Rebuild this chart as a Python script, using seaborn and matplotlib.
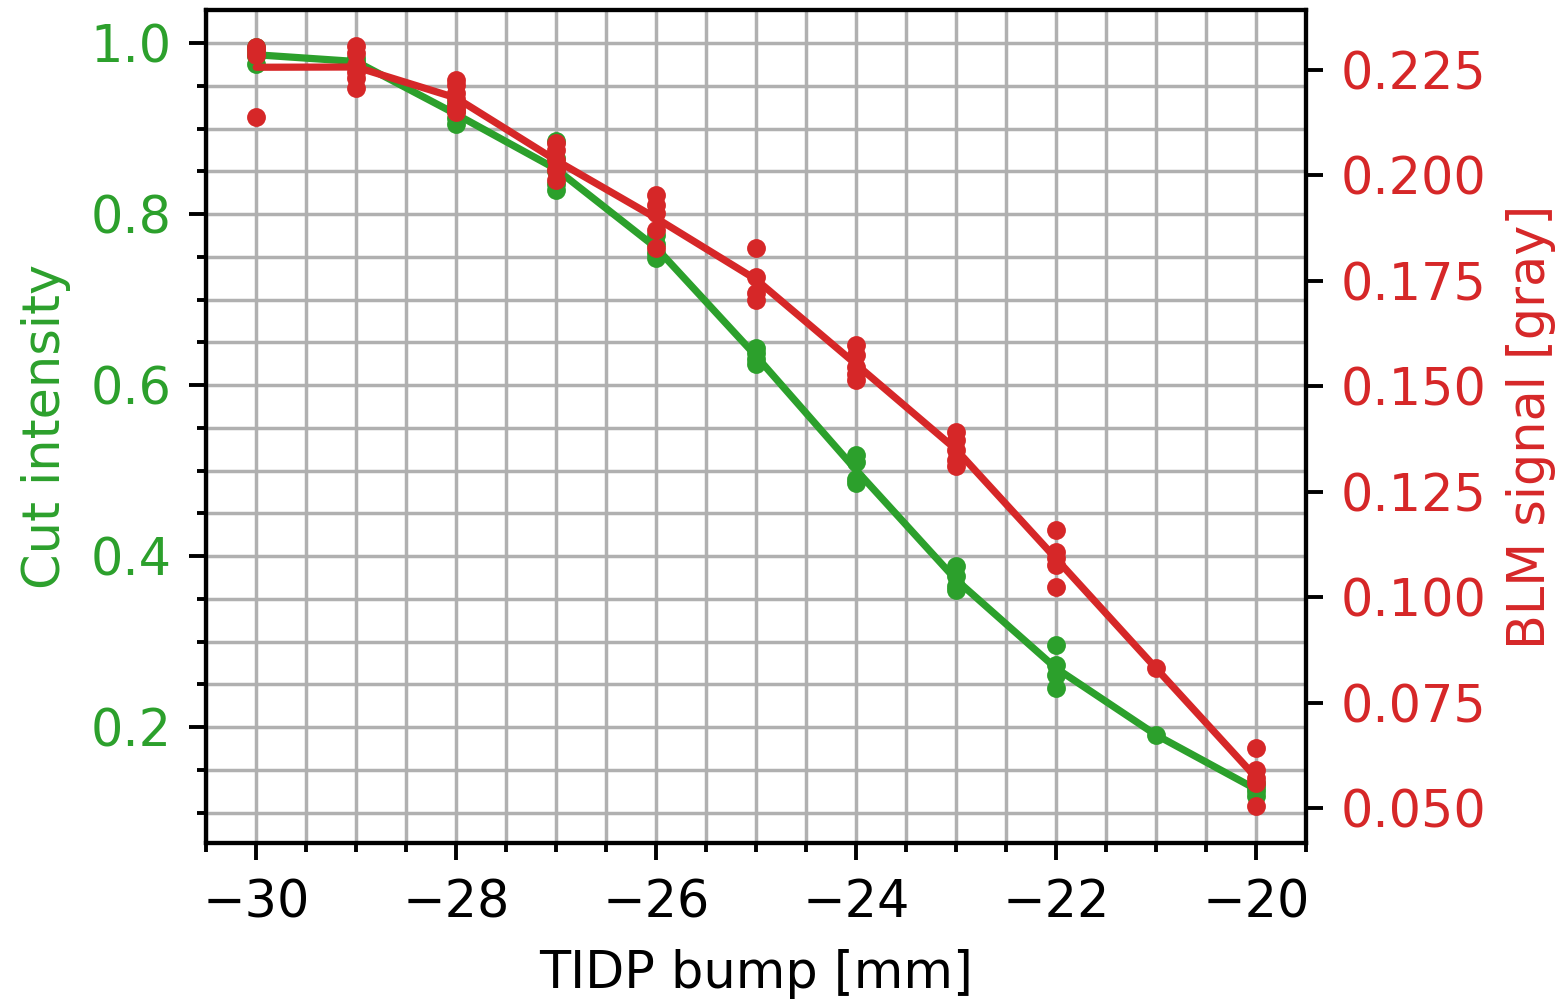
import matplotlib
matplotlib.use("Agg")
import matplotlib.pyplot as plt
import seaborn as sns
import pandas as pd
from matplotlib.ticker import MultipleLocator

bump_mm = [-30, -29, -28, -27, -26, -25, -24, -23, -22, -21, -20]
cut_intensity = [
    [0.995, 0.990, 0.985, 0.975],
    [0.982, 0.978, 0.975],
    [0.930, 0.920, 0.912, 0.905],
    [0.885, 0.865, 0.850, 0.835, 0.828],
    [0.775, 0.765, 0.755, 0.748],
    [0.643, 0.638, 0.630, 0.625],
    [0.518, 0.510, 0.490, 0.485],
    [0.388, 0.377, 0.365, 0.360],
    [0.296, 0.273, 0.261, 0.246],
    [0.191],
    [0.135, 0.130, 0.125, 0.120],
]
blm_signal = [
    [0.2305, 0.2296, 0.2285, 0.2139],
    [0.2307, 0.2290, 0.2262, 0.2245, 0.2230, 0.2207],
    [0.2226, 0.2214, 0.2195, 0.2180, 0.2165, 0.2155, 0.2150],
    [0.2077, 0.2061, 0.2037, 0.2013, 0.1990],
    [0.1954, 0.1930, 0.1911, 0.1871, 0.1828],
    [0.1828, 0.1759, 0.1721, 0.1705],
    [0.1598, 0.1574, 0.1546, 0.1529, 0.1515],
    [0.1392, 0.1373, 0.1350, 0.1326, 0.1311],
    [0.1159, 0.1107, 0.1093, 0.1076, 0.1024],
    [0.0832],
    [0.0642, 0.0590, 0.0571, 0.0559, 0.0504],
]

GREEN = "#2ca02c"
RED = "#d62728"
FS = 18.3

df_cut = pd.DataFrame([(x, v) for x, vals in zip(bump_mm, cut_intensity) for v in vals],
                      columns=["bump", "val"])
df_blm = pd.DataFrame([(x, v) for x, vals in zip(bump_mm, blm_signal) for v in vals],
                      columns=["bump", "val"])

sns.set_style("white")
plt.rcParams["font.family"] = ["DejaVu Sans"]
plt.rcParams["text.color"] = "black"
plt.rcParams["axes.labelcolor"] = "black"
plt.rcParams["xtick.color"] = "black"
plt.rcParams["ytick.color"] = "black"

fig = plt.figure(figsize=(7.81, 4.995), dpi=200)
ax1 = fig.add_axes([0.132, 0.156, 0.836 - 0.132, 0.990 - 0.156])
ax2 = ax1.twinx()

sns.lineplot(data=df_cut, x="bump", y="val", estimator="mean", errorbar=None,
             color=GREEN, lw=2.6, ax=ax1, zorder=3)
sns.scatterplot(data=df_cut, x="bump", y="val", color=GREEN, s=46, linewidth=0,
                ax=ax1, zorder=4)
sns.lineplot(data=df_blm, x="bump", y="val", estimator="mean", errorbar=None,
             color=RED, lw=2.6, ax=ax2, zorder=3)
sns.scatterplot(data=df_blm, x="bump", y="val", color=RED, s=46, linewidth=0,
                ax=ax2, zorder=4)

ax1.set_xlim(-30.5, -19.5)
ax1.set_ylim(0.0643, 1.0386)
ax2.set_ylim(0.0417, 0.2392)

ax1.xaxis.set_major_locator(MultipleLocator(2))
ax1.xaxis.set_minor_locator(MultipleLocator(0.5))
ax1.yaxis.set_major_locator(MultipleLocator(0.2))
ax1.yaxis.set_minor_locator(MultipleLocator(0.05))
ax2.yaxis.set_major_locator(MultipleLocator(0.025))

ax1.grid(True, which="both", color="#b0b0b0", lw=1.25)
ax1.set_axisbelow(True)
ax2.grid(False)

for ax in (ax1, ax2):
    for sp in ax.spines.values():
        sp.set_linewidth(1.5)
        sp.set_color("black")

ax1.tick_params(axis="both", which="major", length=6.2, width=1.4, labelsize=FS,
                pad=6.4, direction="out", bottom=True, left=True, color="black")
ax1.tick_params(axis="both", which="minor", length=3.4, width=1.4,
                direction="out", bottom=True, left=True, color="black")
ax1.tick_params(axis="x", labelcolor="black")
ax1.tick_params(axis="y", labelcolor=GREEN)
ax2.tick_params(axis="y", which="major", length=6.2, width=1.4, labelsize=FS,
                pad=6.4, direction="out", right=True, color="black", labelcolor=RED)

ax1.set_xlabel("TIDP bump [mm]", fontsize=FS, color="black", labelpad=7.5)
ax1.set_ylabel("Cut intensity", fontsize=FS, color=GREEN, labelpad=7)
ax2.set_ylabel("BLM signal [gray]", fontsize=FS, color=RED, labelpad=7)

ax1.set_xticks(bump_mm[::2])
ax1.set_xticklabels([f"\u2212{abs(v)}" for v in bump_mm[::2]])

fig.savefig("out.png", dpi=200)
